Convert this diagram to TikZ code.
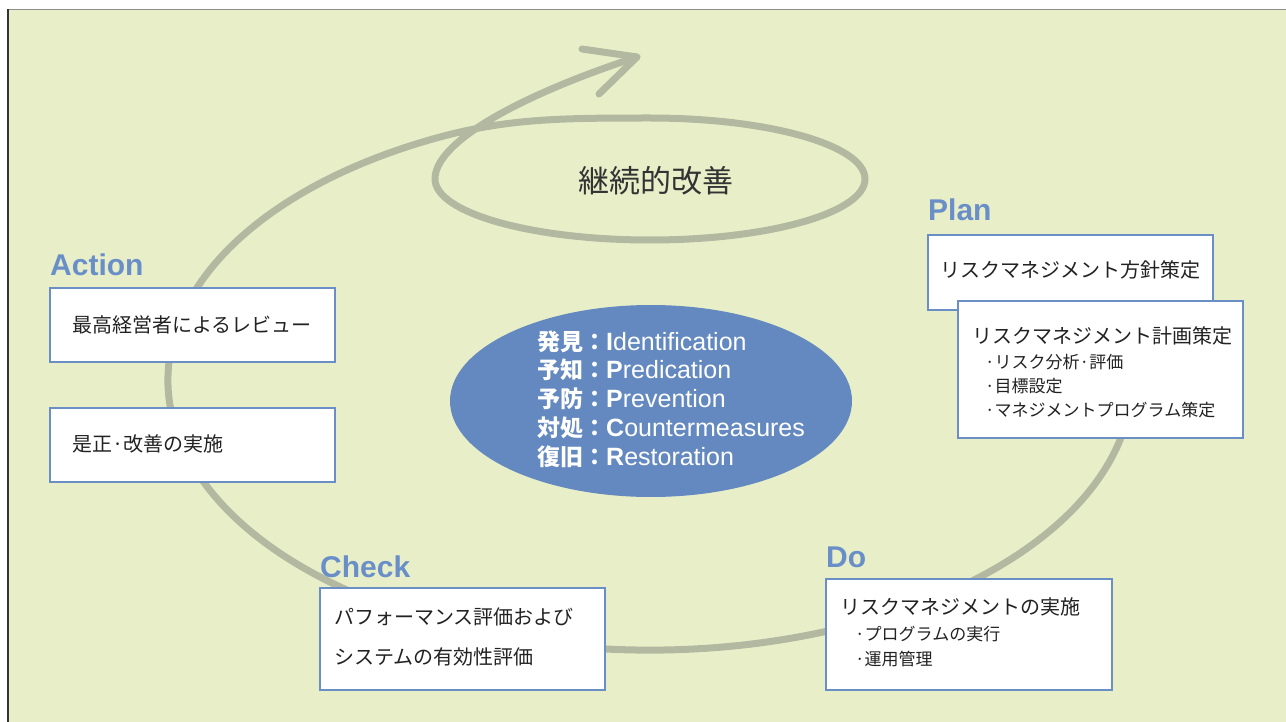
\documentclass[tikz,border=0pt]{standalone}
\usepackage{fontspec}
\usetikzlibrary{shapes.geometric}
\newfontfamily\jp{Noto Sans CJK JP}
\newfontfamily\lat{Liberation Sans}
\definecolor{bgc}{HTML}{E8EFC8}
\definecolor{loopc}{HTML}{B3B9A1}
\definecolor{boxc}{HTML}{6A8FC7}
\definecolor{ellc}{HTML}{6389C0}
\definecolor{lblc}{HTML}{6A8FC8}
\definecolor{txtc}{HTML}{222222}
\tikzset{
  loopline/.style={draw=loopc, line width=7pt, line cap=round, line join=round},
  box/.style={draw=boxc, line width=2.5pt, fill=white, inner sep=0pt},
  jtext/.style={anchor=west, inner sep=0pt, text=txtc, font=\jp\fontsize{20}{24}\selectfont},
  jsub/.style={anchor=west, inner sep=0pt, text=txtc, font=\jp\fontsize{17}{20}\selectfont},
  phase/.style={anchor=base west, inner sep=0pt, text=lblc, font=\lat\bfseries\fontsize{30}{34}\selectfont},
  pline/.style={anchor=west, inner sep=0pt, text=white},
}
\newcommand{\kj}[1]{{\jp\bfseries\fontsize{23}{28}\selectfont #1}}
\newcommand{\lb}[1]{{\lat\bfseries\fontsize{25}{28}\selectfont #1}}
\newcommand{\lr}[1]{{\lat\fontsize{25}{28}\selectfont #1}}
\begin{document}
\begin{tikzpicture}[x=1pt,y=-1pt]
\useasboundingbox (0,0) rectangle (1286,722);
\fill[white] (0,0) rectangle (1286,722);
\fill[bgc] (8,10) rectangle (1286,722);
\draw[black!45, line width=1pt] (8,9.5) -- (1286,9.5);
\draw[black!80, line width=1.6pt] (8,9) -- (8,722);

% spiral loop
\coordinate (start) at (1102.9,287.7);
\coordinate (tip) at (637,57);
\coordinate (barbA) at (582,49);
\coordinate (barbB) at (599,94);
\draw[loopline] (start) arc[start angle=-20, end angle=240, x radius=482, y radius=270]
  .. controls (494.6,118.5) and (550,118) .. (650,118)
  arc[start angle=270, end angle=540, x radius=215, y radius=61]
  .. controls (435,139) and (532.5,91) .. (tip);
\draw[loopline] (barbA) -- (tip) -- (barbB);

\node[inner sep=0pt, text=black!80, font=\jp\fontsize{31}{36}\selectfont] (kaizen) at (656,181) {継続的改善};

% central ellipse
\node[ellipse, fill=ellc, minimum width=402pt, minimum height=192pt, inner sep=0pt] (core) at (651,401) {};
\node[pline] (l1) at (537,342) {\kj{発見：}\lb{I}\lr{dentification}};
\node[pline] (l2) at (537,370) {\kj{予知：}\lb{P}\lr{redication}};
\node[pline] (l3) at (537,399) {\kj{予防：}\lb{P}\lr{revention}};
\node[pline] (l4) at (537,428) {\kj{対処：}\lb{C}\lr{ountermeasures}};
\node[pline] (l5) at (537,457) {\kj{復旧：}\lb{R}\lr{estoration}};

% Action
\node[phase] (actlbl) at (50,276) {Action};
\node[box, minimum width=285pt, minimum height=74pt] (a1) at (192.5,325) {};
\node[jtext] (a1t) at (72,325) {最高経営者によるレビュー};
\node[box, minimum width=285pt, minimum height=74pt] (a2) at (192.5,445) {};
\node[jtext] (a2t) at (72,444) {是正·改善の実施};

% Plan
\node[phase] (planlbl) at (928,221) {Plan};
\node[box, minimum width=285pt, minimum height=75pt] (p1) at (1070.5,272.5) {};
\node[jtext] (p1t) at (940,270) {リスクマネジメント方針策定};
\node[box, minimum width=285pt, minimum height=137pt] (p2) at (1100.5,369.5) {};
\node[jtext] (p2t) at (972,336) {リスクマネジメント計画策定};
\node[jsub] (p2s1) at (985,362) {·リスク分析·評価};
\node[jsub] (p2s2) at (985,386) {·目標設定};
\node[jsub] (p2s3) at (985,410) {·マネジメントプログラム策定};

% Check
\node[phase] (chklbl) at (320,577) {Check};
\node[box, minimum width=285pt, minimum height=102pt] (c1) at (462.5,639) {};
\node[jtext] (c1a) at (334,617) {パフォーマンス評価および};
\node[jtext] (c1b) at (334,657) {システムの有効性評価};

% Do
\node[phase] (dolbl) at (826,567) {Do};
\node[box, minimum width=286pt, minimum height=111pt] (d1) at (969,634.5) {};
\node[jtext] (d1t) at (840,607) {リスクマネジメントの実施};
\node[jsub] (d1s1) at (855,634) {·プログラムの実行};
\node[jsub] (d1s2) at (855,659) {·運用管理};
\end{tikzpicture}
\end{document}
